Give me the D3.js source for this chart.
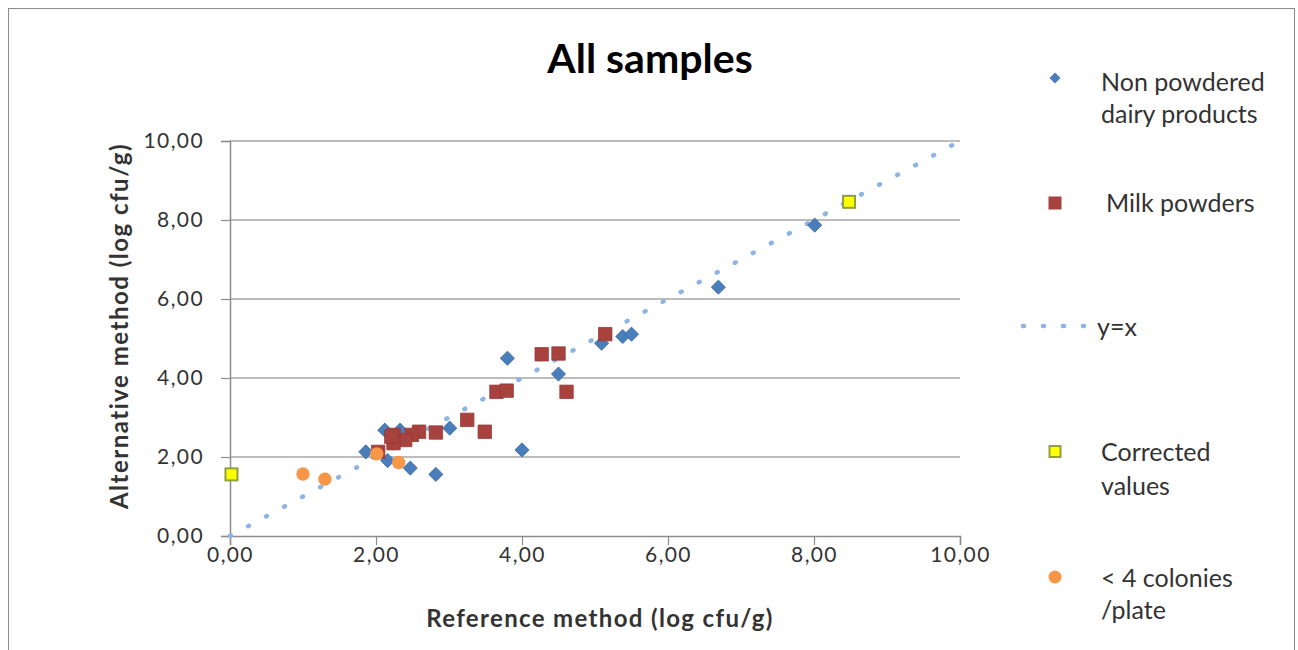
<!DOCTYPE html>
<html lang="en">
<head>
<meta charset="UTF-8">
<title>All samples</title>
<script src="https://cdnjs.cloudflare.com/ajax/libs/d3/7.8.5/d3.min.js"></script>
<style>
*{margin:0;padding:0;box-sizing:border-box}
body{background:#fff;width:1298px;height:650px;overflow:hidden}
svg{display:block}
</style>
</head>
<body>
<div id="chart"></div>
<script>
// values
const nonPowderedX = [8.01, 6.69, 5.09, 5.38, 5.50, 4.50, 3.80, 4.00, 3.01, 2.82, 2.47, 2.16, 1.86, 2.12, 2.33];
const nonPowderedY = [7.87, 6.30, 4.88, 5.05, 5.11, 4.10, 4.50, 2.18, 2.73, 1.56, 1.72, 1.91, 2.13, 2.68, 2.68];
const milkX = [5.14, 4.27, 4.50, 4.61, 3.65, 3.79, 3.25, 3.49, 2.82, 2.59, 2.49, 2.40, 2.24, 2.24, 2.03, 2.21];
const milkY = [5.11, 4.60, 4.62, 3.65, 3.65, 3.68, 2.94, 2.64, 2.62, 2.64, 2.56, 2.43, 2.56, 2.35, 2.13, 2.51];
const correctedX = [0.02, 8.48];
const correctedY = [1.56, 8.46];
const fewColoniesX = [1.00, 1.30, 2.01, 2.31];
const fewColoniesY = [1.57, 1.44, 2.08, 1.86];
const identityLine = [0, 10];
const ticks = [0, 2, 4, 6, 8, 10];

const W = 1298, H = 650;
const mg = {t: 141, l: 230, r: 338, b: 114};
const FONT = "Lato, 'Open Sans', sans-serif";
const BLUE = '#4a7ebb', RED = '#a8423f', ORANGE = '#f79646', YEL = '#ffff00', LINE = '#8db4e3';
const fmt = v => d3.format('.2f')(v).replace('.', ',');

const svg = d3.select('#chart').append('svg').attr('width', W).attr('height', H).attr('font-family', FONT);
svg.append('rect').attr('x', 8.5).attr('y', 8.5).attr('width', 1286).attr('height', 660)
  .attr('fill', '#fff').attr('stroke', '#8c8c8c').attr('stroke-width', 1);

const x = d3.scaleLinear().domain([0, 10]).range([mg.l, W - mg.r]);
const y = d3.scaleLinear().domain([0, 10]).range([H - mg.b, mg.t]);

// gridlines
svg.append('g').selectAll('line').data(ticks.slice(1)).join('line')
  .attr('x1', x(0)).attr('x2', x(10)).attr('y1', d => y(d)).attr('y2', d => y(d))
  .attr('stroke', '#a6a6a6').attr('stroke-width', 1.5);

// axes
const yAxis = svg.append('g').attr('transform', `translate(${x(0)},0)`)
  .call(d3.axisLeft(y).tickValues(ticks).tickFormat(fmt).tickSize(9).tickPadding(17));
const xAxis = svg.append('g').attr('transform', `translate(0,${y(0)})`)
  .call(d3.axisBottom(x).tickValues(ticks).tickFormat(fmt).tickSize(9).tickPadding(2));
[xAxis, yAxis].forEach(a => {
  a.select('.domain').attr('stroke', '#8c8c8c').attr('stroke-width', 1.5);
  a.selectAll('.tick line').attr('stroke', '#8c8c8c').attr('stroke-width', 1.2);
  a.selectAll('.tick text').attr('font-size', '21px').attr('letter-spacing', '1.4px')
    .attr('fill', '#333').attr('font-family', FONT);
});

// y = x dotted line
svg.append('line').attr('x1', x(identityLine[0])).attr('y1', y(identityLine[0]))
  .attr('x2', x(identityLine[1])).attr('y2', y(identityLine[1]))
  .attr('stroke', LINE).attr('stroke-width', 4.5).attr('stroke-linecap', 'round').attr('stroke-dasharray', '1 19.5');

svg.append('g').selectAll('path').data(nonPowderedX.map((v, i) => [v, nonPowderedY[i]])).join('path')
  .attr('d', d3.symbol().type(d3.symbolSquare).size(100))
  .attr('transform', d => `translate(${x(d[0])},${y(d[1])}) rotate(45)`)
  .attr('fill', BLUE).attr('stroke', '#3d6ca5').attr('stroke-width', 0.8);

svg.append('g').selectAll('path').data(milkX.map((v, i) => [v, milkY[i]])).join('path')
  .attr('d', d3.symbol().type(d3.symbolSquare).size(180))
  .attr('transform', d => `translate(${x(d[0])},${y(d[1])})`)
  .attr('fill', RED).attr('stroke', '#983a37').attr('stroke-width', 0.8);

svg.append('g').selectAll('rect').data(correctedX.map((v, i) => [v, correctedY[i]])).join('rect')
  .attr('x', d => x(d[0]) - 6).attr('y', d => y(d[1]) - 6).attr('width', 12).attr('height', 12)
  .attr('fill', YEL).attr('stroke', '#8ea13b').attr('stroke-width', 2);

svg.append('g').selectAll('circle').data(fewColoniesX.map((v, i) => [v, fewColoniesY[i]])).join('circle')
  .attr('cx', d => x(d[0])).attr('cy', d => y(d[1])).attr('r', 6.7)
  .attr('fill', ORANGE);

// titles
svg.append('text').attr('x', 650).attr('y', 73).attr('text-anchor', 'middle')
  .attr('font-size', '41px').attr('font-weight', 700).attr('fill', '#000').text('All samples');
svg.append('text').attr('x', 600).attr('y', 627).attr('text-anchor', 'middle')
  .attr('font-size', '24px').attr('letter-spacing', '1.35px').attr('font-weight', 700).attr('fill', '#333')
  .text('Reference method (log cfu/g)');
svg.append('text').attr('transform', 'translate(128,326) rotate(-90)').attr('text-anchor', 'middle')
  .attr('font-size', '24px').attr('letter-spacing', '1.5px').attr('font-weight', 700).attr('fill', '#333')
  .text('Alternative method (log cfu/g)');

// legend
const lg = svg.append('g').attr('font-size', '25px').attr('fill', '#333');
const mx = 1055, tx = 1101;
lg.append('path').attr('d', d3.symbol().type(d3.symbolSquare).size(60))
  .attr('transform', `translate(${mx},78) rotate(45)`).attr('fill', BLUE);
lg.append('text').attr('x', tx).attr('y', 91).text('Non powdered');
lg.append('text').attr('x', tx).attr('y', 123).text('dairy products');
lg.append('rect').attr('x', mx - 6.5).attr('y', 196.5).attr('width', 13).attr('height', 13).attr('fill', RED);
lg.append('text').attr('x', tx + 5).attr('y', 212).text('Milk powders');
lg.append('line').attr('x1', 1023).attr('x2', 1090).attr('y1', 326).attr('y2', 326)
  .attr('stroke', LINE).attr('stroke-width', 4.5).attr('stroke-linecap', 'round').attr('stroke-dasharray', '1 19');
lg.append('text').attr('x', 1097).attr('y', 336).text('y=x');
lg.append('rect').attr('x', mx - 5.5).attr('y', 446).attr('width', 11).attr('height', 11)
  .attr('fill', YEL).attr('stroke', '#8ea13b').attr('stroke-width', 2);
lg.append('text').attr('x', tx).attr('y', 461).text('Corrected');
lg.append('text').attr('x', tx).attr('y', 495).text('values');
lg.append('circle').attr('cx', mx).attr('cy', 577).attr('r', 6.5).attr('fill', ORANGE);
lg.append('text').attr('x', tx).attr('y', 587).text('< 4 colonies');
lg.append('text').attr('x', tx).attr('y', 619).text('/plate');
</script>
</body>
</html>
